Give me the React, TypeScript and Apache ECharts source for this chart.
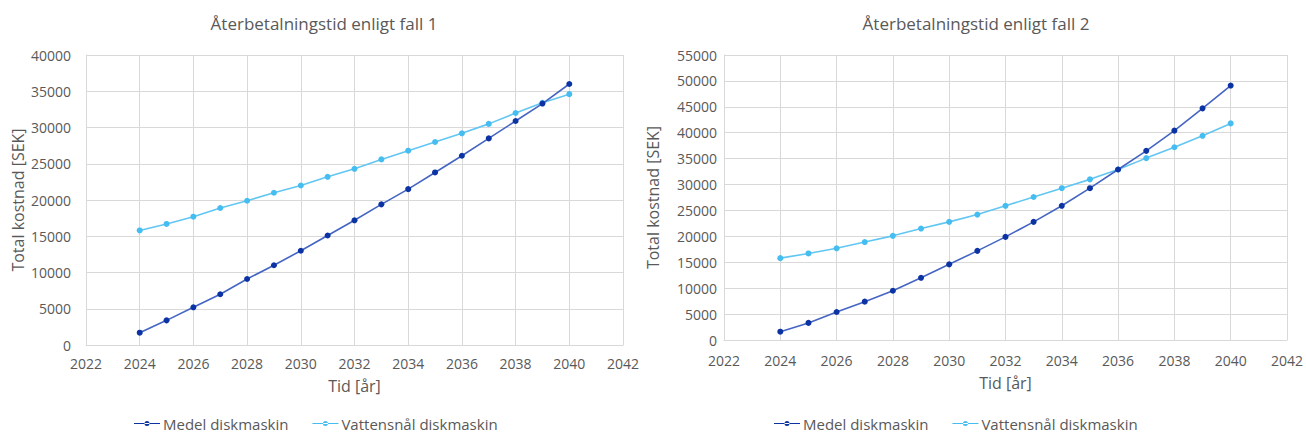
import React, { useEffect, useRef } from "react";
import * as echarts from "echarts";

const years = [2024, 2025, 2026, 2027, 2028, 2029, 2030, 2031, 2032, 2033, 2034, 2035, 2036, 2037, 2038, 2039, 2040];

const fall1Medel = [1700, 3400, 5200, 7000, 9100, 11000, 13000, 15100, 17200, 19400, 21500, 23800, 26100, 28500, 30900, 33300, 36000];
const fall1Vatten = [15800, 16700, 17700, 18900, 19900, 21000, 22000, 23200, 24300, 25600, 26800, 28000, 29200, 30500, 32000, 33400, 34600];

const fall2Medel = [1600, 3300, 5400, 7400, 9500, 12000, 14600, 17200, 19900, 22800, 25900, 29300, 32900, 36500, 40400, 44700, 49100];
const fall2Vatten = [15800, 16700, 17700, 18900, 20100, 21500, 22800, 24200, 25900, 27600, 29300, 31000, 32900, 35100, 37200, 39400, 41800];

const titles = ["Återbetalningstid enligt fall 1", "Återbetalningstid enligt fall 2"];
const seriesNames = ["Medel diskmaskin", "Vattensnål diskmaskin"];
const xName = "Tid [år]";
const yName = "Total kostnad [SEK]";

const FONT = "'Open Sans', 'Noto Sans', sans-serif";
const TEXT = "#595959";
const GRID = "#d9d9d9";

const LEGEND_ICON =
  "path://M0,2 L26,2 L26,3 L0,3 Z M10.5,2.5 A2.5,2.5 0 1 0 15.5,2.5 A2.5,2.5 0 1 0 10.5,2.5 Z";

export default function App() {
  const ref = useRef<HTMLDivElement>(null);

  useEffect(() => {
    document.body.style.margin = "0";
    const chart = echarts.init(ref.current!, undefined, { renderer: "svg" });

    const pair = (arr: number[]) => years.map((y, i) => [y, arr[i]]);
    const plain = (v: number) => String(v);

    const mkX = (gridIndex: number, margin: number, nameGap: number) => ({
      type: "value",
      gridIndex,
      min: 2022,
      max: 2042,
      interval: 2,
      name: xName,
      nameLocation: "middle",
      nameGap,
      nameTextStyle: { color: TEXT, fontSize: 16, fontFamily: FONT },
      axisLine: { show: true, lineStyle: { color: GRID } },
      axisTick: { show: false },
      axisLabel: { color: TEXT, fontSize: 14, fontFamily: FONT, margin, formatter: plain },
      splitLine: { show: true, lineStyle: { color: GRID, width: 1 } },
    });

    const mkY = (gridIndex: number, max: number, margin: number, nameGap: number) => ({
      type: "value",
      gridIndex,
      min: 0,
      max,
      interval: 5000,
      name: yName,
      nameLocation: "middle",
      nameGap,
      nameTextStyle: { color: TEXT, fontSize: 16, fontFamily: FONT },
      axisLine: { show: true, lineStyle: { color: GRID } },
      axisTick: { show: false },
      axisLabel: { color: TEXT, fontSize: 14, fontFamily: FONT, margin, formatter: plain },
      splitLine: { show: true, lineStyle: { color: GRID, width: 1 } },
    });

    const mkSeries = (name: string, data: number[], idx: number, dark: boolean) => ({
      type: "line",
      name,
      xAxisIndex: idx,
      yAxisIndex: idx,
      data: pair(data),
      symbol: "circle",
      symbolSize: 6,
      lineStyle: { color: dark ? "#4565c3" : "#62c6f2", width: 1.6 },
      itemStyle: { color: dark ? "#0b33a3" : "#45bdf0" },
      z: dark ? 3 : 2,
    });

    const mkLegend = (left: number) => ({
      left,
      top: 416,
      padding: [0, 0, 0, 0],
      data: seriesNames.map((n) => ({ name: n, icon: LEGEND_ICON })),
      itemWidth: 26,
      itemHeight: 5,
      itemGap: 24,
      textStyle: { color: TEXT, fontSize: 15, fontFamily: FONT, padding: [0, 0, 0, -2] },
    });

    chart.setOption({
      animation: false,
      backgroundColor: "#ffffff",
      title: [
        {
          text: titles[0],
          left: 319,
          top: 10,
          textAlign: "center",
          textStyle: { color: TEXT, fontSize: 17, fontWeight: "normal", fontFamily: FONT },
        },
        {
          text: titles[1],
          left: 971,
          top: 10,
          textAlign: "center",
          textStyle: { color: TEXT, fontSize: 17, fontWeight: "normal", fontFamily: FONT },
        },
      ],
      legend: [mkLegend(134), mkLegend(774)],
      grid: [
        { left: 86, top: 55, width: 537, height: 290, containLabel: false },
        { left: 724, top: 55, width: 565, height: 285, containLabel: false },
      ],
      xAxis: [mkX(0, 11, 33), mkX(1, 13, 35)],
      yAxis: [mkY(0, 40000, 15, 60), mkY(1, 55000, 7, 63)],
      series: [
        mkSeries(seriesNames[1], fall1Vatten, 0, false),
        mkSeries(seriesNames[0], fall1Medel, 0, true),
        mkSeries(seriesNames[1], fall2Vatten, 1, false),
        mkSeries(seriesNames[0], fall2Medel, 1, true),
      ],
    });

    return () => chart.dispose();
  }, []);

  return <div ref={ref} style={{ position: "absolute", left: 0, top: 0, width: 1306, height: 437 }} />;
}
